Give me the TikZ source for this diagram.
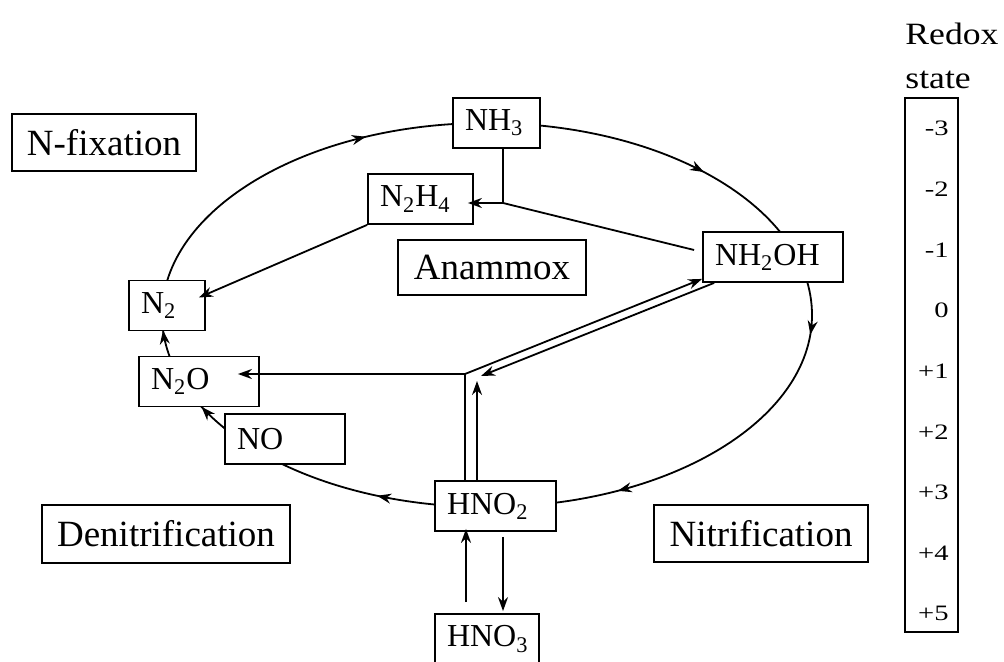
\documentclass[tikz,border=0pt]{standalone}
\usepackage{fontspec}
\setmainfont{Liberation Serif}
\usepackage{graphicx}
\usepackage{tikz}
\usetikzlibrary{arrows.meta,positioning,calc,decorations.markings}
\tikzset{
    species/.style={draw, rectangle, fill=white, line width=0.9pt, minimum height=25pt, inner xsep=6pt, inner ysep=0pt, align=left, font=\fontsize{16}{18}\selectfont},
    process/.style={draw, rectangle, fill=white, line width=0.9pt, text centered, inner sep=0pt, font=\fontsize{18.5}{21}\selectfont},
    tip/.tip={Stealth[length=7pt, width=5pt]},
    arrow/.style={-tip, line width=0.9pt},
    link/.style={line width=0.9pt},
    ring/.style={line width=0.9pt, postaction={decorate}, decoration={markings,
        mark=at position 0.012 with {\arrow{tip}},
        mark=at position 0.170 with {\arrow{tip}},
        mark=at position 0.317 with {\arrow{tip}},
        mark=at position 0.438 with {\arrow{tip}},
        mark=at position 0.4907 with {\arrow{tip}},
        mark=at position 0.676 with {\arrow{tip}},
        mark=at position 0.886 with {\arrow{tip}}}},
    heading/.style={font=\fontsize{15.5}{18}\selectfont, anchor=base west, inner sep=0pt},
    level/.style={font=\fontsize{11}{13}\selectfont, anchor=base east, inner sep=0pt}
}

\begin{document}
\begin{tikzpicture}[x=0.5pt, y=-0.5pt]
    \useasboundingbox (0,0) rectangle (1004,662);

    % the cycle
    \draw[ring] (487,315) ellipse [x radius=325, y radius=192];

    \node[species, text width=31.5pt] (nh3) at (496.5,123) {NH\textsubscript{3}};
    \node[species, text width=40.5pt] (n2h4) at (420.5,199) {N\textsubscript{2}H\textsubscript{4}};
    \node[species, text width=58pt] (nh2oh) at (773,257) {NH\textsubscript{2}OH};
    \node[species, text width=26pt] (n2) at (167,305.5) {N\textsubscript{2}};
    \node[species, text width=48pt] (n2o) at (199,381.5) {N\textsubscript{2}O};
    \node[species, text width=48pt] (no) at (285,439) {NO};
    \node[species, text width=48.5pt] (hno2) at (495.5,506) {HNO\textsubscript{2}};
    \node[species, text width=40pt] (hno3) at (487,639) {HNO\textsubscript{3}};

    \node[process, minimum width=92pt, minimum height=28.5pt] (fixation) at (104,142.5) {N-fixation};
    \node[process, minimum width=94pt, minimum height=27.5pt] (anammox) at (492,267.5) {Anammox};
    \node[process, minimum width=124pt, minimum height=29pt] (denitrification) at (166,534) {Denitrification};
    \node[process, minimum width=107pt, minimum height=28.5pt] (nitrification) at (761,533.5) {Nitrification};

    % anammox branch
    \coordinate (j1) at (503,203);
    \draw[link] (j1 |- nh3.south) -- (j1);
    \draw[link] (j1) -- ($(nh2oh.west)+(-8,-7)$);
    \draw[arrow, shorten >=-3pt] (j1) -- (n2h4.east |- j1);
    \draw[arrow] (n2h4.south west) -- ($(n2.east)+(-7,-8)$);

    % nitrite branches
    \coordinate (j2) at (465,374);
    \coordinate (j3) at (481,376);
    \coordinate (j4) at (477,381);
    \draw[arrow] (j2 |- hno2.north) -- (j2) -- ($(nh2oh.south west)+(0,-4)$);
    \draw[arrow] (j2) -- ($(n2o.east |- j2)+(-22,0)$);
    \draw[arrow] ($(nh2oh.south west)+(12,0)$) -- (j3);
    \draw[arrow] (j4 |- hno2.north) -- (j4);
    \draw[arrow] ($(hno3.north)+(-21,-11)$) -- ($(hno2.south)+(-29.5,-3)$);
    \draw[arrow] ($(hno2.south)+(7.5,5)$) -- ($(hno3.north)+(16,-2)$);

    % redox scale
    \node[heading] (redox) at (905,45) {\scalebox{1.15}[1]{Redox}};
    \node[heading] (state) at (905,89) {\scalebox{1.15}[1]{state}};
    \node[draw, line width=0.9pt, minimum width=26.5pt, minimum height=267pt] (bar) at (931.5,365) {};
    \foreach \v [count=\i] in {-3,-2,-1,0,+1,+2,+3,+4,+5} {
        \node[level] (lv\i) at (949,{136+60.6*(\i-1)}) {\scalebox{1.3}[1]{\v}};
    }
\end{tikzpicture}
\end{document}
